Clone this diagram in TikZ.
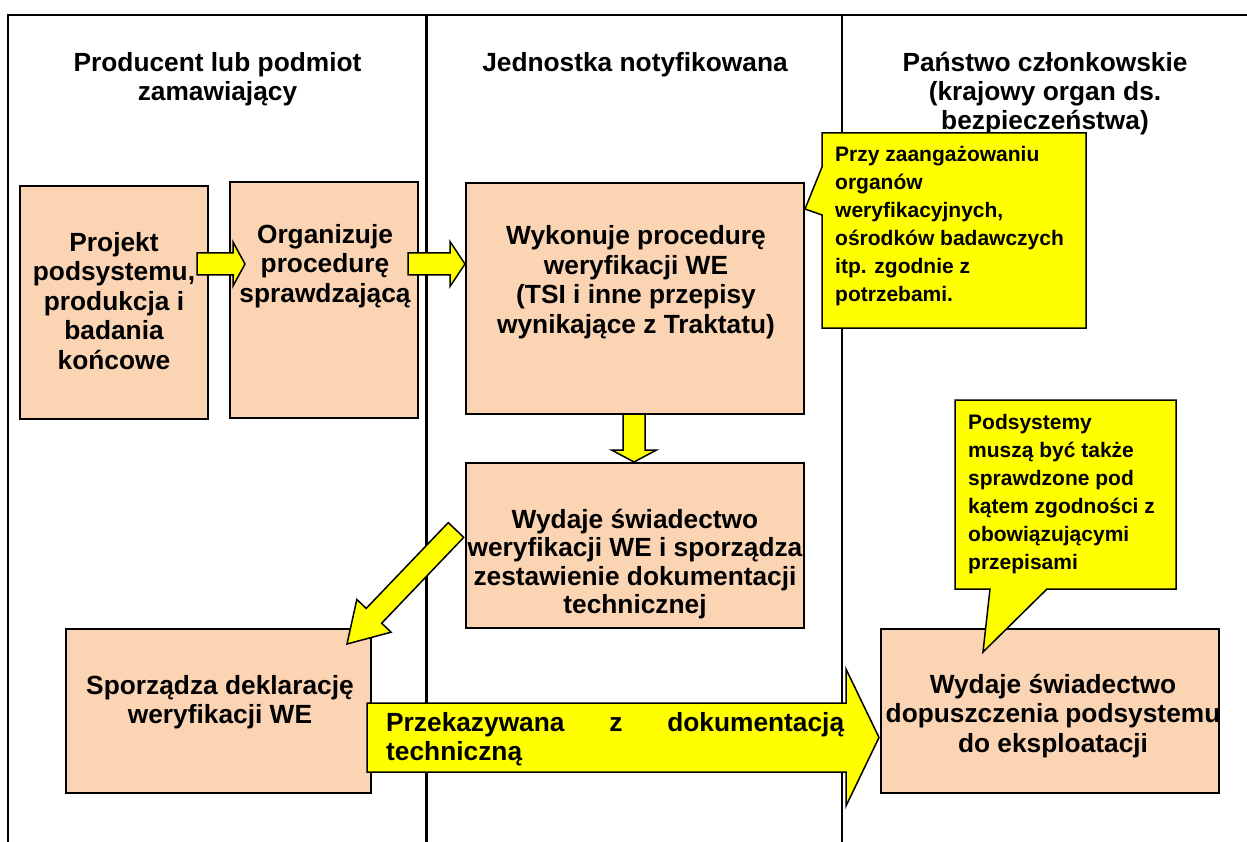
\documentclass[tikz,border=0pt]{standalone}
\usepackage{fontspec}
\setmainfont{Liberation Sans}
\usetikzlibrary{calc}
\definecolor{peach}{HTML}{FBD4B4}
\definecolor{yel}{HTML}{FFFF00}
\tikzset{
  box/.style={draw=black, line width=1.8pt, fill=peach, inner sep=0pt, anchor=north west},
  btext/.style={font=\fontsize{26.3}{29.5}\selectfont\bfseries, align=center, inner sep=0pt},
  ttext/.style={font=\fontsize{26.3}{29}\selectfont\bfseries, align=center, inner sep=0pt},
  ctext/.style={font=\fontsize{21}{28}\selectfont\bfseries, align=left, inner sep=0pt, anchor=west},
  yshape/.style={fill=yel, draw=black, line width=1.5pt, line join=miter},
  frameline/.style={draw=black, line width=2.6pt},
}
\newcommand\yarrow[5]{%
  \coordinate (yah) at ($(#2)!#5!(#1)$);
  \path[yshape] ($(#1)!#3!90:(#2)$) -- ($(yah)!#3!90:(#2)$) -- ($(yah)!#4!90:(#2)$) -- (#2)
     -- ($(yah)!#4!-90:(#2)$) -- ($(yah)!#3!-90:(#2)$) -- ($(#1)!#3!-90:(#2)$) -- cycle;
}
\begin{document}
\begin{tikzpicture}[x=1pt, y=-1pt]
\useasboundingbox[fill=white] (0,0) rectangle (1247,842);
% frame and lane dividers
\draw[frameline] (8,842) -- (8,15) -- (1247,15);
\draw[black, line width=3pt] (426,15) -- (426,842);
\draw[black, line width=2.2pt] (842,15) -- (842,842);

% lane titles
\node[ttext] (h1) at (217.5,79) {Producent lub podmiot\\zamawiający};
\node[ttext] (h2) at (635,65) {Jednostka notyfikowana};
\node[ttext] (h3) at (1045,94) {Państwo członkowskie\\(krajowy organ ds.\\bezpieczeństwa)};

% boxes
\node[box, minimum width=188pt, minimum height=233pt] (b1) at (19,185) {};
\node[box, minimum width=188pt, minimum height=236pt] (b2) at (229,181) {};
\node[box, minimum width=338pt, minimum height=231pt] (b3) at (465,182) {};
\node[box, minimum width=338pt, minimum height=165pt] (b4) at (465,462) {};
\node[box, minimum width=305pt, minimum height=164pt] (b5) at (65,628) {};
\node[box, minimum width=338pt, minimum height=164pt] (b6) at (880,628) {};

% arrows
\coordinate (aA1) at (197,264);   \coordinate (aA2) at (245,264);
\coordinate (aB1) at (408,264);   \coordinate (aB2) at (465,264);
\coordinate (aC1) at (634,414);   \coordinate (aC2) at (634,462);
\coordinate (aD1) at (456,530);   \coordinate (aD2) at (347,644);
\coordinate (aE1) at (367,737.5); \coordinate (aE2) at (879,737.5);
\yarrow{aA1}{aA2}{11pt}{22pt}{12pt}
\yarrow{aB1}{aB2}{11pt}{22.5pt}{15pt}
\yarrow{aC1}{aC2}{11pt}{22.5pt}{12pt}
\yarrow{aD1}{aD2}{10.7pt}{23.7pt}{39pt}
\yarrow{aE1}{aE2}{34.5pt}{68.5pt}{33pt}

% callouts
\path[yshape] (822,133) -- (1086,133) -- (1086,328) -- (822,328) -- (822,215) -- (805,209) -- (822,167) -- cycle;
\path[yshape] (955,400) -- (1176,400) -- (1176,589) -- (1047,589) -- (983,652) -- (990,589) -- (955,589) -- cycle;

% box texts
\node[btext] (t1) at (114,301) {Projekt\\podsystemu,\\produkcja i\\badania\\końcowe};
\node[btext] (t2) at (325,266) {Organizuje\\procedurę\\sprawdzającą};
\node[btext] (t3) at (636,282) {Wykonuje procedurę\\weryfikacji WE\\(TSI i inne przepisy\\wynikające z Traktatu)};
\node[btext, font=\fontsize{26.3}{28.3}\selectfont\bfseries] (t4) at (635,564) {Wydaje świadectwo\\weryfikacji WE i sporządza\\zestawienie dokumentacji\\technicznej};
\node[btext] (t5) at (220,702) {Sporządza deklarację\\weryfikacji WE};
\node[btext] (t6) at (1053,716) {Wydaje świadectwo\\dopuszczenia podsystemu\\do eksploatacji};

% callout texts
\node[ctext] (c1t) at (835,226) {Przy zaangażowaniu\\organów\\weryfikacyjnych,\\ośrodków badawczych\\itp. zgodnie z\\potrzebami.};
\node[ctext] (c2t) at (968,494.5) {Podsystemy\\muszą być także\\sprawdzone pod\\kątem zgodności z\\obowiązującymi\\przepisami};

% arrow text
\node[font=\fontsize{26.3}{28.5}\selectfont\bfseries, align=left, text width=458pt, inner sep=0pt, anchor=west] (et) at (386,739) {Przekazywana\hfill z\hfill dokumentacją\\techniczną};
\end{tikzpicture}
\end{document}
